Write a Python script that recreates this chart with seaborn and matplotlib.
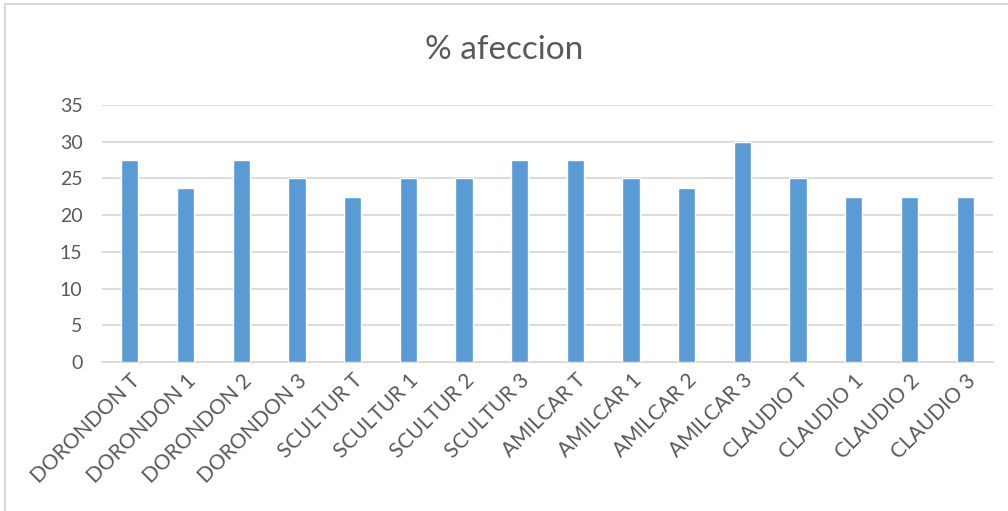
import matplotlib
matplotlib.use("Agg")
import matplotlib.pyplot as plt
import seaborn as sns
import pandas as pd
from matplotlib.patches import Rectangle

categories = [
    "DORONDON T", "DORONDON 1", "DORONDON 2", "DORONDON 3",
    "SCULTUR T", "SCULTUR 1", "SCULTUR 2", "SCULTUR 3",
    "AMILCAR T", "AMILCAR 1", "AMILCAR 2", "AMILCAR 3",
    "CLAUDIO T", "CLAUDIO 1", "CLAUDIO 2", "CLAUDIO 3",
]
afeccion = [27.5, 23.75, 27.5, 25, 22.5, 25, 25, 27.5,
            27.5, 25, 23.75, 30, 25, 22.5, 22.5, 22.5]
y_ticks = [0, 5, 10, 15, 20, 25, 30, 35]

df = pd.DataFrame({"tratamiento": categories, "afeccion": afeccion})

sns.set_theme(style="white")
plt.rcParams["font.family"] = ["Lato", "DejaVu Sans"]

text_color = "#595959"
grid_color = "#D9D9D9"
bar_color = "#5B9BD5"

fig = plt.figure(figsize=(10.08, 5.11), dpi=100)
ax = fig.add_axes([102 / 1008, 1 - 362 / 511, 891 / 1008, 257 / 511])

sns.barplot(data=df, x="tratamiento", y="afeccion", color=bar_color,
            saturation=1, width=0.31, ax=ax, zorder=3)

ax.set_ylim(0, 35)
ax.set_xlim(-0.5, len(categories) - 0.5)
ax.set_yticks(y_ticks)
ax.set_yticklabels([str(t) for t in y_ticks], fontsize=14, color=text_color)
ax.yaxis.grid(True, color=grid_color, linewidth=1.3, zorder=0)
ax.set_axisbelow(True)
ax.tick_params(axis="y", length=0, pad=14)
ax.tick_params(axis="x", length=0, pad=6)
ax.set_xticks(range(len(categories)))
ax.set_xticklabels(categories, rotation=45, ha="right", rotation_mode="anchor",
                   fontsize=15, color=text_color)
ax.set_xlabel("")
ax.set_ylabel("")
for side in ["top", "right", "left"]:
    ax.spines[side].set_visible(False)
ax.spines["bottom"].set_color(grid_color)
ax.spines["bottom"].set_linewidth(1.3)

fig.text(0.5, 1 - 50 / 511, "% afeccion", ha="center", va="center",
         fontsize=24, color=text_color)

# chart area border
fig.patches.append(Rectangle((5 / 1008, -0.01), 1.02, 1 - 4 / 511 + 0.01,
                             transform=fig.transFigure, fill=False,
                             edgecolor="#D9D9D9", linewidth=1.5))

fig.savefig("out.png", dpi=100)
